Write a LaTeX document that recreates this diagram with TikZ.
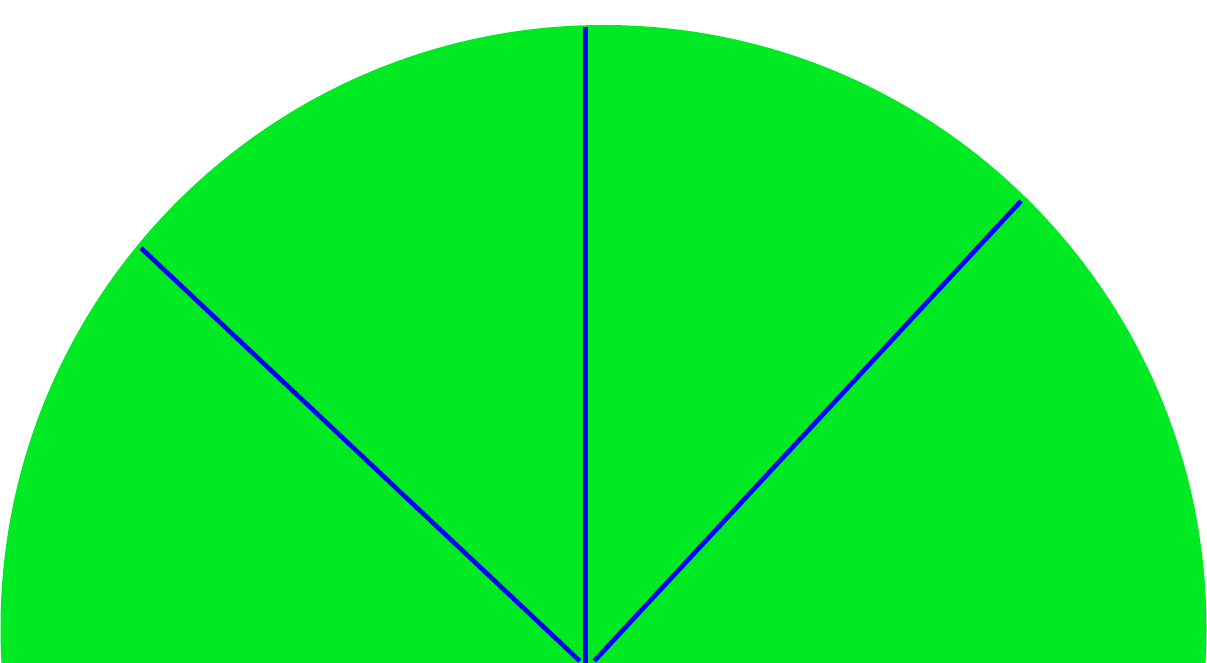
\documentclass[tikz,border=0pt]{standalone}
\usepackage{xcolor}
\definecolor{fillgreen}{RGB}{0,234,36}
\definecolor{rayblue}{RGB}{0,0,255}
\tikzset{ray/.style={draw=rayblue,line width=4.6pt}}
\begin{document}
\begin{tikzpicture}[x=1pt,y=-1pt]
\useasboundingbox (0,0) rectangle (1207,663);
\clip (0,0) rectangle (1207,663);
\fill[fillgreen] (603.5,628) circle[radius=603];
\coordinate (topV) at (585.5,27);
\coordinate (bottomV) at (585.5,670);
\coordinate (leftEnd) at (141,248);
\coordinate (leftBottom) at (579.8,661);
\coordinate (rightEnd) at (1021,201);
\coordinate (rightBottom) at (594.3,661);
\draw[ray] (topV) -- (bottomV);
\draw[ray] (leftEnd) -- (leftBottom);
\draw[ray] (rightEnd) -- (rightBottom);
\end{tikzpicture}
\end{document}
